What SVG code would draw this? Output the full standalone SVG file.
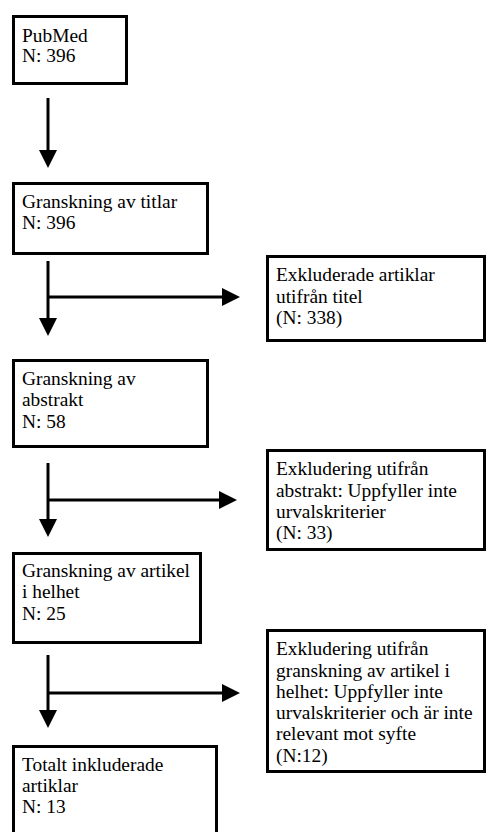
<svg xmlns="http://www.w3.org/2000/svg" width="489" height="832" viewBox="0 0 489 832">
<style>
.box{fill:#fff;stroke:#000;stroke-width:3}
.c{fill:none;stroke:#000;stroke-width:3}
text{font-family:"Liberation Serif","Times New Roman",serif;font-size:19.4px;fill:#000}
</style>
<defs>
<marker id="ah" markerWidth="6" markerHeight="6" refX="0" refY="3" orient="auto" markerUnits="strokeWidth" viewBox="0 0 6 6">
<path d="M0,0 L6,3 L0,6 Z" fill="#000"/>
</marker>
</defs>
<rect width="489" height="832" fill="#fff"/>
<g id="connectors">
<line class="c" x1="48" y1="98" x2="48" y2="150" marker-end="url(#ah)"/>
<line class="c" x1="48" y1="261" x2="48" y2="318" marker-end="url(#ah)"/>
<line class="c" x1="48" y1="297" x2="222" y2="297" marker-end="url(#ah)"/>
<line class="c" x1="48" y1="463" x2="48" y2="519" marker-end="url(#ah)"/>
<line class="c" x1="48" y1="500" x2="219" y2="500" marker-end="url(#ah)"/>
<line class="c" x1="48" y1="655" x2="48" y2="710" marker-end="url(#ah)"/>
<line class="c" x1="48" y1="693" x2="222" y2="693" marker-end="url(#ah)"/>
</g>
<g id="pubmed">
<rect class="box" x="13.5" y="16.5" width="113" height="67"/>
<text x="22" y="42">PubMed</text>
<text x="22" y="62">N: 396</text>
</g>
<g id="titlar">
<rect class="box" x="13.5" y="183.5" width="194" height="70"/>
<text x="22" y="208">Granskning av titlar</text>
<text x="22" y="229">N: 396</text>
</g>
<g id="excl-titel">
<rect class="box" x="267.5" y="256.5" width="217" height="84"/>
<text x="276" y="281">Exkluderade artiklar</text>
<text x="276" y="303">utifrån titel</text>
<text x="276" y="324">(N: 338)</text>
</g>
<g id="abstrakt">
<rect class="box" x="13.5" y="360.5" width="194" height="86"/>
<text x="22" y="385">Granskning av</text>
<text x="22" y="406">abstrakt</text>
<text x="22" y="428">N: 58</text>
</g>
<g id="excl-abstrakt">
<rect class="box" x="267.5" y="450.5" width="217" height="99"/>
<text x="276" y="475">Exkludering utifrån</text>
<text x="276" y="497">abstrakt: Uppfyller inte</text>
<text x="276" y="518">urvalskriterier</text>
<text x="276" y="539">(N: 33)</text>
</g>
<g id="helhet">
<rect class="box" x="13.5" y="553.5" width="187" height="89"/>
<text x="22" y="577">Granskning av artikel</text>
<text x="22" y="598">i helhet</text>
<text x="22" y="620">N: 25</text>
</g>
<g id="excl-helhet">
<rect class="box" x="267.5" y="630.5" width="217" height="141"/>
<text x="276" y="655">Exkludering utifrån</text>
<text x="276" y="677">granskning av artikel i</text>
<text x="276" y="698">helhet: Uppfyller inte</text>
<text x="276" y="719">urvalskriterier och är inte</text>
<text x="276" y="740">relevant mot syfte</text>
<text x="276" y="762">(N:12)</text>
</g>
<g id="totalt">
<rect class="box" x="13.5" y="746.5" width="203" height="100"/>
<text x="22" y="771">Totalt inkluderade</text>
<text x="22" y="792">artiklar</text>
<text x="22" y="813">N: 13</text>
</g>
</svg>
